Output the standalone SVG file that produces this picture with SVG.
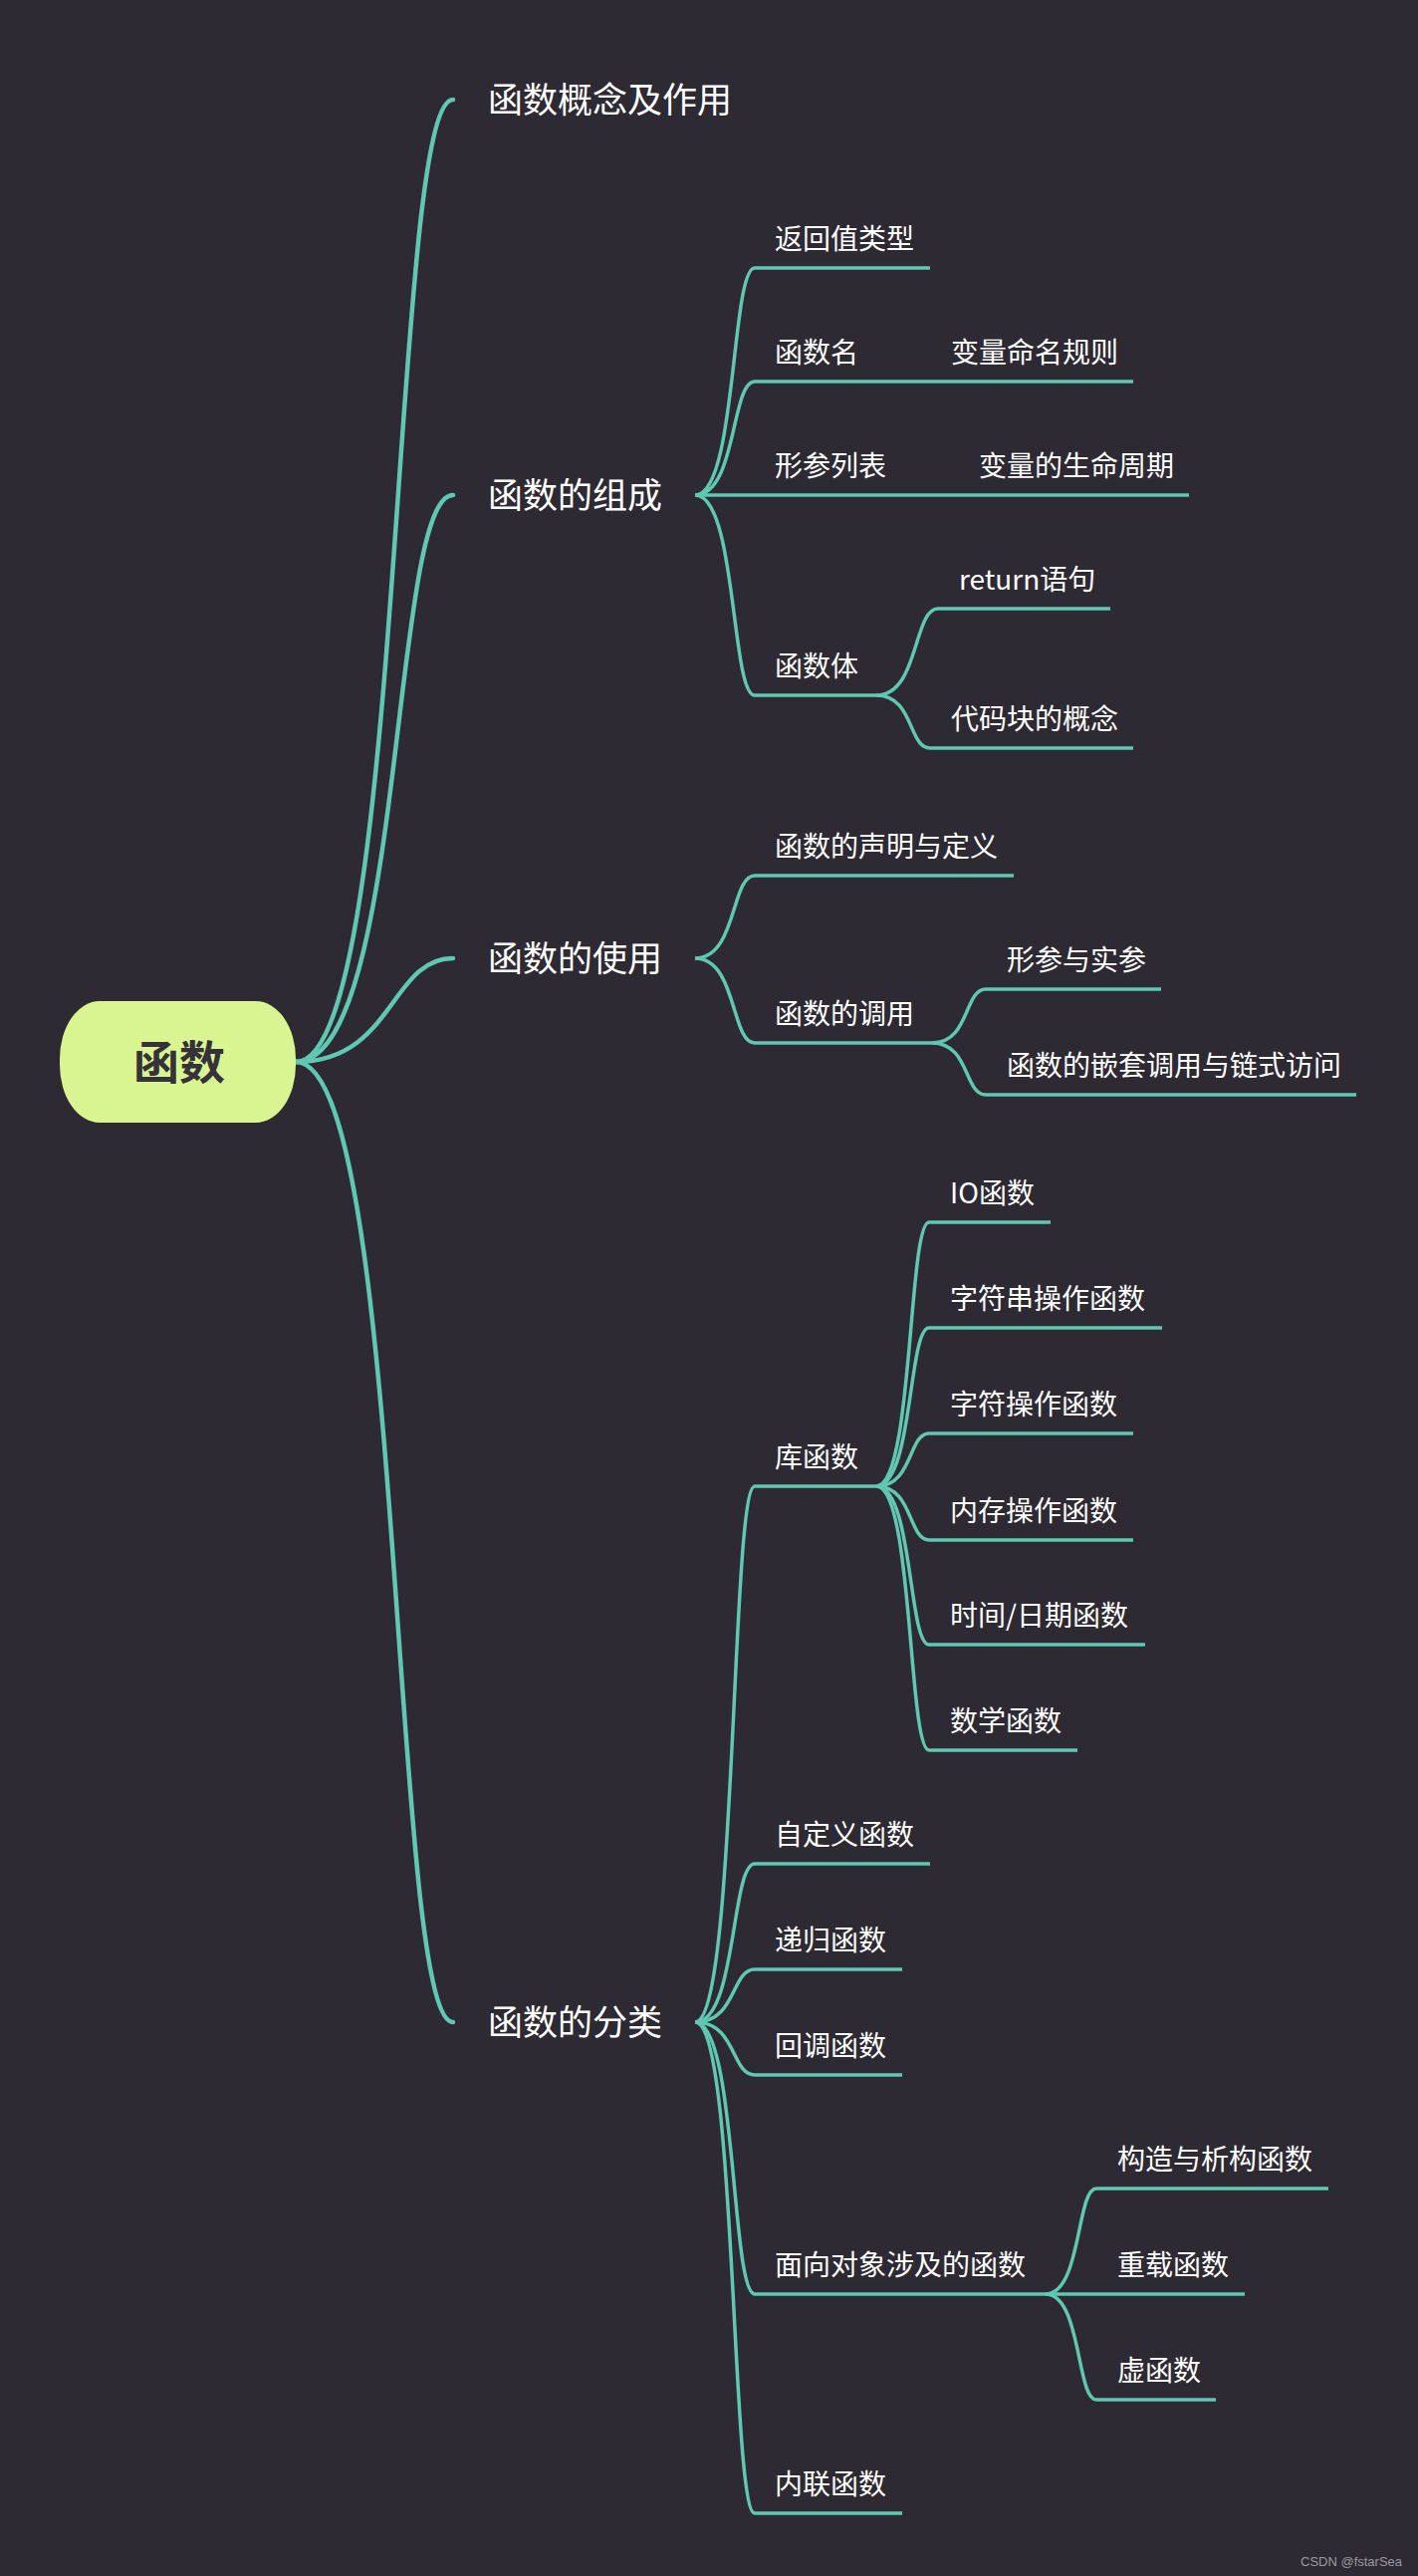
<svg xmlns="http://www.w3.org/2000/svg" width="1424" height="2586" viewBox="0 0 1424 2586">
<style>
.bg{fill:#2e2a33}
.c1{fill:none;stroke:#5fc7b2;stroke-width:4.5;stroke-linecap:round}
.c2{fill:none;stroke:#5fc7b2;stroke-width:3.5}
.ul{stroke:#5fc7b2;stroke-width:3.5}
.t1{font-family:"Noto Sans CJK SC","Noto Sans",sans-serif;font-size:35px;fill:#ffffff;dominant-baseline:central}
.t2{font-family:"Noto Sans CJK SC","Noto Sans",sans-serif;font-size:28px;fill:#ffffff;dominant-baseline:central}
.root{fill:#d8f591}
.rt{font-family:"Noto Sans CJK SC","Noto Sans",sans-serif;font-size:46px;font-weight:bold;fill:#35323a;dominant-baseline:central;text-anchor:middle}
.wm{font-family:"Liberation Sans",Arial,sans-serif;font-size:13px;fill:#9a9a9e}
</style>
<rect class="bg" x="0" y="0" width="1424" height="2586"/>
<g id="connectors">
<path class="c1" d="M297,1066 C407,1066 392,100 455,100"/>
<path class="c1" d="M297,1066 C407,1066 392,497 455,497"/>
<path class="c1" d="M297,1066 C395,1066 392,962 455,962"/>
<path class="c1" d="M297,1066 C407,1066 392,2030 455,2030"/>
<path class="c2" d="M698,497 C740,497 734,269 758,269"/>
<path class="c2" d="M698,497 C740,497 734,383 758,383"/>
<path class="c2" d="M698,497 L758,497"/>
<path class="c2" d="M698,497 C740,497 734,698 758,698"/>
<path class="c2" d="M878,383 L934,383"/>
<path class="c2" d="M907,497 L962,497"/>
<path class="c2" d="M880,698 C923,698 917,611 942,611"/>
<path class="c2" d="M880,698 C918,698 912,751 934,751"/>
<path class="c2" d="M698,962 C740,962 734,879 758,879"/>
<path class="c2" d="M698,962 C740,962 734,1047 758,1047"/>
<path class="c2" d="M936,1047 C974,1047 968,993 990,993"/>
<path class="c2" d="M936,1047 C974,1047 968,1099 990,1099"/>
<path class="c2" d="M698,2030 C740,2030 734,1492 758,1492"/>
<path class="c2" d="M698,2030 C740,2030 734,1871 758,1871"/>
<path class="c2" d="M698,2030 C740,2030 734,1977 758,1977"/>
<path class="c2" d="M698,2030 C740,2030 734,2083 758,2083"/>
<path class="c2" d="M698,2030 C740,2030 734,2303 758,2303"/>
<path class="c2" d="M698,2030 C740,2030 734,2523 758,2523"/>
<path class="c2" d="M880,1492 C917,1492 912,1227 933,1227"/>
<path class="c2" d="M880,1492 C917,1492 912,1333 933,1333"/>
<path class="c2" d="M880,1492 C917,1492 912,1439 933,1439"/>
<path class="c2" d="M880,1492 C917,1492 912,1546 933,1546"/>
<path class="c2" d="M880,1492 C917,1492 912,1651 933,1651"/>
<path class="c2" d="M880,1492 C917,1492 912,1757 933,1757"/>
<path class="c2" d="M1050,2303 C1086,2303 1081,2197 1101,2197"/>
<path class="c2" d="M1050,2303 L1101,2303"/>
<path class="c2" d="M1050,2303 C1086,2303 1081,2409 1101,2409"/>
</g>
<g id="root">
<rect class="root" x="60" y="1005" width="237" height="122" rx="40" ry="58"/>
<text class="rt" x="180" y="1063">函数</text>
</g>
<g id="n-concept"><text class="t1" x="490" y="97">函数概念及作用</text></g>
<g id="n-compose"><text class="t1" x="490" y="494">函数的组成</text></g>
<g id="n-use"><text class="t1" x="490" y="959">函数的使用</text></g>
<g id="n-class"><text class="t1" x="490" y="2027">函数的分类</text></g>

<g id="n-rettype"><line class="ul" x1="758" y1="269" x2="934" y2="269"/><text class="t2" x="778" y="238">返回值类型</text></g>
<g id="n-name"><line class="ul" x1="758" y1="383" x2="878" y2="383"/><text class="t2" x="778" y="352">函数名</text></g>
<g id="n-naming"><line class="ul" x1="934" y1="383" x2="1138" y2="383"/><text class="t2" x="955" y="352">变量命名规则</text></g>
<g id="n-params"><line class="ul" x1="758" y1="497" x2="907" y2="497"/><text class="t2" x="778" y="466">形参列表</text></g>
<g id="n-lifetime"><line class="ul" x1="962" y1="497" x2="1194" y2="497"/><text class="t2" x="983" y="466">变量的生命周期</text></g>
<g id="n-body"><line class="ul" x1="758" y1="698" x2="880" y2="698"/><text class="t2" x="778" y="667">函数体</text></g>
<g id="n-return"><line class="ul" x1="942" y1="611" x2="1115" y2="611"/><text class="t2" x="963" y="580">return语句</text></g>
<g id="n-block"><line class="ul" x1="934" y1="751" x2="1138" y2="751"/><text class="t2" x="955" y="720">代码块的概念</text></g>

<g id="n-decl"><line class="ul" x1="758" y1="879" x2="1018" y2="879"/><text class="t2" x="778" y="848">函数的声明与定义</text></g>
<g id="n-call"><line class="ul" x1="758" y1="1047" x2="936" y2="1047"/><text class="t2" x="778" y="1016">函数的调用</text></g>
<g id="n-args"><line class="ul" x1="990" y1="993" x2="1166" y2="993"/><text class="t2" x="1011" y="962">形参与实参</text></g>
<g id="n-nested"><line class="ul" x1="990" y1="1099" x2="1362" y2="1099"/><text class="t2" x="1011" y="1068">函数的嵌套调用与链式访问</text></g>

<g id="n-lib"><line class="ul" x1="758" y1="1492" x2="880" y2="1492"/><text class="t2" x="778" y="1461">库函数</text></g>
<g id="n-io"><line class="ul" x1="933" y1="1227" x2="1055" y2="1227"/><text class="t2" x="954" y="1196">IO函数</text></g>
<g id="n-str"><line class="ul" x1="933" y1="1333" x2="1167" y2="1333"/><text class="t2" x="954" y="1302">字符串操作函数</text></g>
<g id="n-char"><line class="ul" x1="933" y1="1439" x2="1138" y2="1439"/><text class="t2" x="954" y="1408">字符操作函数</text></g>
<g id="n-mem"><line class="ul" x1="933" y1="1546" x2="1138" y2="1546"/><text class="t2" x="954" y="1515">内存操作函数</text></g>
<g id="n-time"><line class="ul" x1="933" y1="1651" x2="1150" y2="1651"/><text class="t2" x="954" y="1620">时间/日期函数</text></g>
<g id="n-math"><line class="ul" x1="933" y1="1757" x2="1082" y2="1757"/><text class="t2" x="954" y="1726">数学函数</text></g>
<g id="n-custom"><line class="ul" x1="758" y1="1871" x2="934" y2="1871"/><text class="t2" x="778" y="1840">自定义函数</text></g>
<g id="n-recur"><line class="ul" x1="758" y1="1977" x2="906" y2="1977"/><text class="t2" x="778" y="1946">递归函数</text></g>
<g id="n-callback"><line class="ul" x1="758" y1="2083" x2="906" y2="2083"/><text class="t2" x="778" y="2052">回调函数</text></g>
<g id="n-oo"><line class="ul" x1="758" y1="2303" x2="1050" y2="2303"/><text class="t2" x="778" y="2272">面向对象涉及的函数</text></g>
<g id="n-ctor"><line class="ul" x1="1101" y1="2197" x2="1334" y2="2197"/><text class="t2" x="1122" y="2166">构造与析构函数</text></g>
<g id="n-overload"><line class="ul" x1="1101" y1="2303" x2="1250" y2="2303"/><text class="t2" x="1122" y="2272">重载函数</text></g>
<g id="n-virtual"><line class="ul" x1="1101" y1="2409" x2="1221" y2="2409"/><text class="t2" x="1122" y="2378">虚函数</text></g>
<g id="n-inline"><line class="ul" x1="758" y1="2523" x2="906" y2="2523"/><text class="t2" x="778" y="2492">内联函数</text></g>

<text class="wm" x="1306" y="2576">CSDN @fstarSea</text>
</svg>
